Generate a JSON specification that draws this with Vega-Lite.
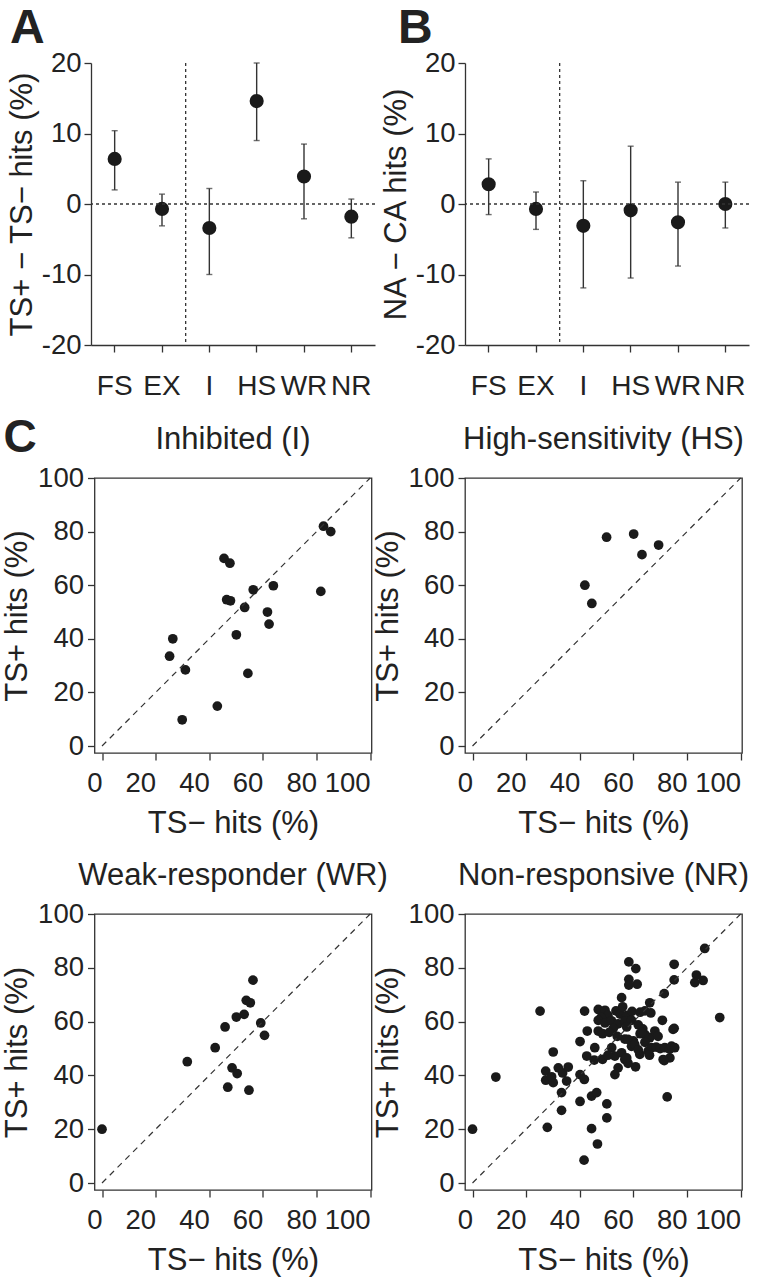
{
  "$schema": "https://vega.github.io/schema/vega-lite/v6.json",
  "padding": {"left": 0, "top": 5, "right": 0, "bottom": 0},
  "background": "white",
  "config": {
    "font": "Liberation Sans",
    "view": {"stroke": "#333", "strokeWidth": 1.3},
    "axis": {"grid": false, "labelFont": "Liberation Sans", "labelFontSize": 27.5, "labelColor": "#222", "titleFont": "Liberation Sans", "titleFontSize": 31, "titleFontWeight": "normal", "titleColor": "#222", "tickColor": "#333", "tickSize": 7, "tickWidth": 1.3, "domainColor": "#333", "domainWidth": 1.3},
    "title": {"font": "Liberation Sans", "fontSize": 31, "fontWeight": "normal", "color": "#222"}
  },
  "datasets": {
    "panelA": [
      {"group": "FS", "mean": 6.4, "lo": 2.0, "hi": 10.4},
      {"group": "EX", "mean": -0.7, "lo": -3.1, "hi": 1.4},
      {"group": "I", "mean": -3.4, "lo": -10.0, "hi": 2.2},
      {"group": "HS", "mean": 14.6, "lo": 9.0, "hi": 20.0},
      {"group": "WR", "mean": 3.9, "lo": -2.1, "hi": 8.5},
      {"group": "NR", "mean": -1.8, "lo": -4.8, "hi": 0.7}
    ],
    "panelB": [
      {"group": "FS", "mean": 2.8, "lo": -1.5, "hi": 6.4},
      {"group": "EX", "mean": -0.7, "lo": -3.6, "hi": 1.7},
      {"group": "I", "mean": -3.1, "lo": -11.9, "hi": 3.3},
      {"group": "HS", "mean": -0.9, "lo": -10.5, "hi": 8.2},
      {"group": "WR", "mean": -2.6, "lo": -8.8, "hi": 3.1},
      {"group": "NR", "mean": 0.0, "lo": -3.4, "hi": 3.1}
    ],
    "I": [
      {"minus": 82.6, "plus": 82.0}, {"minus": 85.3, "plus": 80.0}, {"minus": 45.5, "plus": 70.0}, {"minus": 47.7, "plus": 68.2},
      {"minus": 56.4, "plus": 58.3}, {"minus": 63.9, "plus": 59.8}, {"minus": 81.6, "plus": 57.7}, {"minus": 46.5, "plus": 54.6},
      {"minus": 47.9, "plus": 54.2}, {"minus": 53.2, "plus": 51.7}, {"minus": 61.7, "plus": 50.0}, {"minus": 62.3, "plus": 45.5},
      {"minus": 50.1, "plus": 41.5}, {"minus": 26.4, "plus": 40.0}, {"minus": 25.2, "plus": 33.5}, {"minus": 31.1, "plus": 28.4},
      {"minus": 54.4, "plus": 27.1}, {"minus": 43.0, "plus": 14.9}, {"minus": 29.9, "plus": 9.8}
    ],
    "HS": [
      {"minus": 50.0, "plus": 77.9}, {"minus": 60.1, "plus": 79.1}, {"minus": 63.2, "plus": 71.4},
      {"minus": 69.4, "plus": 75.0}, {"minus": 41.9, "plus": 60.0}, {"minus": 44.5, "plus": 53.2}
    ],
    "WR": [
      {"minus": 0.0, "plus": 20.0}, {"minus": 31.8, "plus": 45.1}, {"minus": 42.2, "plus": 50.3}, {"minus": 45.9, "plus": 58.0},
      {"minus": 50.1, "plus": 61.7}, {"minus": 53.0, "plus": 62.7}, {"minus": 53.8, "plus": 67.9}, {"minus": 55.3, "plus": 67.0},
      {"minus": 56.3, "plus": 75.4}, {"minus": 59.2, "plus": 59.5}, {"minus": 60.6, "plus": 54.9}, {"minus": 48.5, "plus": 42.8},
      {"minus": 50.4, "plus": 40.7}, {"minus": 46.9, "plus": 35.6}, {"minus": 54.8, "plus": 34.5}
    ],
    "NR": [
      {"minus": 0.0, "plus": 20.0}, {"minus": 8.7, "plus": 39.4}, {"minus": 25.2, "plus": 63.9}, {"minus": 27.9, "plus": 20.7},
      {"minus": 30.1, "plus": 48.7}, {"minus": 92.2, "plus": 61.5}, {"minus": 86.6, "plus": 87.2}, {"minus": 72.6, "plus": 32.0},
      {"minus": 41.6, "plus": 8.5}, {"minus": 46.6, "plus": 14.5}, {"minus": 44.4, "plus": 20.2}, {"minus": 50.1, "plus": 24.2},
      {"minus": 50.1, "plus": 29.4}, {"minus": 40.1, "plus": 30.3}, {"minus": 44.4, "plus": 32.3}, {"minus": 46.3, "plus": 33.6},
      {"minus": 33.2, "plus": 33.6}, {"minus": 33.2, "plus": 27.0},
      {"minus": 27.3, "plus": 41.6}, {"minus": 27.3, "plus": 38.2}, {"minus": 30.1, "plus": 37.3}, {"minus": 32.0, "plus": 42.8},
      {"minus": 33.6, "plus": 40.9}, {"minus": 35.7, "plus": 43.1}, {"minus": 35.1, "plus": 37.9}, {"minus": 40.1, "plus": 40.3},
      {"minus": 41.7, "plus": 38.5}, {"minus": 29.5, "plus": 39.5},
      {"minus": 40.1, "plus": 52.6}, {"minus": 42.8, "plus": 56.5}, {"minus": 41.8, "plus": 63.9}, {"minus": 42.6, "plus": 47.2},
      {"minus": 45.4, "plus": 45.7}, {"minus": 45.6, "plus": 50.3},
      {"minus": 58.3, "plus": 82.2}, {"minus": 60.9, "plus": 79.7}, {"minus": 75.2, "plus": 81.3}, {"minus": 75.2, "plus": 75.5},
      {"minus": 83.5, "plus": 77.3}, {"minus": 82.9, "plus": 74.5}, {"minus": 86.0, "plus": 75.3}, {"minus": 58.3, "plus": 75.7},
      {"minus": 61.4, "plus": 73.9}, {"minus": 58.3, "plus": 73.6}, {"minus": 71.5, "plus": 70.4}, {"minus": 55.6, "plus": 68.9},
      {"minus": 66.1, "plus": 67.0}, {"minus": 70.8, "plus": 60.5}, {"minus": 75.2, "plus": 57.5},
      {"minus": 46.9, "plus": 64.5}, {"minus": 49.4, "plus": 64.2}, {"minus": 50.5, "plus": 62.3}, {"minus": 53.5, "plus": 64.0},
      {"minus": 55.0, "plus": 62.8}, {"minus": 56.0, "plus": 65.5}, {"minus": 57.5, "plus": 62.3}, {"minus": 59.5, "plus": 63.8},
      {"minus": 62.5, "plus": 63.5}, {"minus": 64.3, "plus": 64.0}, {"minus": 66.5, "plus": 63.2}, {"minus": 48.0, "plus": 61.5},
      {"minus": 46.9, "plus": 60.5}, {"minus": 49.4, "plus": 59.5}, {"minus": 51.8, "plus": 60.3}, {"minus": 54.3, "plus": 59.2},
      {"minus": 56.8, "plus": 60.2}, {"minus": 59.3, "plus": 60.5}, {"minus": 61.8, "plus": 58.8}, {"minus": 63.5, "plus": 57.3},
      {"minus": 52.5, "plus": 57.5}, {"minus": 57.5, "plus": 58.0},
      {"minus": 46.9, "plus": 56.5}, {"minus": 48.5, "plus": 55.5}, {"minus": 51.0, "plus": 56.0}, {"minus": 56.8, "plus": 53.5},
      {"minus": 62.5, "plus": 55.5}, {"minus": 64.3, "plus": 55.2}, {"minus": 66.1, "plus": 54.0}, {"minus": 68.0, "plus": 56.5},
      {"minus": 69.2, "plus": 54.5}, {"minus": 60.0, "plus": 52.8}, {"minus": 54.0, "plus": 54.5}, {"minus": 58.0, "plus": 53.4},
      {"minus": 63.0, "plus": 55.9}, {"minus": 74.8, "plus": 57.1},
      {"minus": 51.9, "plus": 50.3}, {"minus": 53.1, "plus": 47.2}, {"minus": 55.6, "plus": 48.4}, {"minus": 56.8, "plus": 45.9},
      {"minus": 59.3, "plus": 50.8}, {"minus": 60.5, "plus": 51.5}, {"minus": 62.4, "plus": 47.8}, {"minus": 64.3, "plus": 52.3},
      {"minus": 65.5, "plus": 49.0}, {"minus": 66.7, "plus": 50.3}, {"minus": 68.5, "plus": 50.5}, {"minus": 70.0, "plus": 50.0},
      {"minus": 71.7, "plus": 50.3}, {"minus": 73.5, "plus": 49.8}, {"minus": 74.2, "plus": 50.9}, {"minus": 75.4, "plus": 50.3},
      {"minus": 73.6, "plus": 46.5}, {"minus": 71.1, "plus": 45.9}, {"minus": 66.0, "plus": 47.5},
      {"minus": 54.3, "plus": 42.8}, {"minus": 53.1, "plus": 40.3}, {"minus": 60.8, "plus": 43.2}, {"minus": 58.0, "plus": 44.5},
      {"minus": 57.5, "plus": 46.5}, {"minus": 71.5, "plus": 45.5}, {"minus": 48.5, "plus": 46.0}, {"minus": 50.5, "plus": 47.5},
      {"minus": 61.8, "plus": 49.5}
    ]
  },
  "columns": 2,
  "spacing": {"row": 161, "column": 90},
  "bounds": "flush",
  "center": {"column": true, "row": false},
  "concat": [
    {
      "width": 284, "height": 254,
      "view": {"stroke": null},
      "title": {"text": "A", "fontSize": 48, "fontWeight": "bold", "anchor": "start", "frame": "group", "dx": -81, "offset": -4},
      "data": {"name": "panelA"},
      "layer": [
        {"mark": {"type": "rule", "color": "#333", "strokeWidth": 1.4},
         "encoding": {
           "x": {"field": "group", "type": "nominal", "sort": ["FS", "EX", "I", "HS", "WR", "NR"], "scale": {"paddingInner": 0, "paddingOuter": 0},
                 "axis": {"title": "C", "titleFontSize": 46, "titleFontWeight": "bold", "titleAlign": "left", "titleAnchor": "start", "titleBaseline": "alphabetic", "titleX": -88, "titleY": 106, "labelAngle": 0, "labelPadding": 20, "labelFontSize": 28, "offset": 28}},
           "y": {"field": "lo", "type": "quantitative", "scale": {"domain": [-20, 20], "nice": false, "range": [282, 0]}, "axis": {"title": "TS+ − TS− hits (%)", "values": [-20, -10, 0, 10, 20], "labelPadding": 3, "titlePadding": 3, "labelExpr": "datum.value < 0 ? '-' + abs(datum.value) : '' + datum.value"}},
           "y2": {"field": "hi"}}},
        {"mark": {"type": "tick", "color": "#333", "thickness": 1.4, "size": 6, "orient": "horizontal"},
         "encoding": {"x": {"field": "group", "type": "nominal", "sort": ["FS", "EX", "I", "HS", "WR", "NR"]}, "y": {"field": "lo", "type": "quantitative"}}},
        {"mark": {"type": "tick", "color": "#333", "thickness": 1.4, "size": 6, "orient": "horizontal"},
         "encoding": {"x": {"field": "group", "type": "nominal", "sort": ["FS", "EX", "I", "HS", "WR", "NR"]}, "y": {"field": "hi", "type": "quantitative"}}},
        {"mark": {"type": "circle", "size": 200, "opacity": 1, "color": "#1a1a1a"},
         "encoding": {"x": {"field": "group", "type": "nominal", "sort": ["FS", "EX", "I", "HS", "WR", "NR"]}, "y": {"field": "mean", "type": "quantitative"}}},
        {"data": {"values": [{}]},
         "mark": {"type": "rule", "color": "#333", "strokeWidth": 1.3, "strokeDash": [3, 3]},
         "encoding": {"y": {"datum": 0, "type": "quantitative"}}},
        {"data": {"values": [{"group": "EX"}]},
         "mark": {"type": "rule", "color": "#333", "strokeWidth": 1.3, "strokeDash": [3, 3]},
         "encoding": {"x": {"field": "group", "type": "nominal", "sort": ["FS", "EX", "I", "HS", "WR", "NR"], "bandPosition": 1}, "y": {"datum": 20, "type": "quantitative"}, "y2": {"datum": -20}}}
      ]
    },
    {
      "width": 284, "height": 254,
      "view": {"stroke": null},
      "title": {"text": "B", "fontSize": 48, "fontWeight": "bold", "anchor": "start", "frame": "group", "dx": -67, "offset": -4},
      "data": {"name": "panelB"},
      "layer": [
        {"mark": {"type": "rule", "color": "#333", "strokeWidth": 1.4},
         "encoding": {
           "x": {"field": "group", "type": "nominal", "sort": ["FS", "EX", "I", "HS", "WR", "NR"], "scale": {"paddingInner": 0, "paddingOuter": 0},
                 "axis": {"title": null, "labelAngle": 0, "labelPadding": 20, "labelFontSize": 28, "offset": 28}},
           "y": {"field": "lo", "type": "quantitative", "scale": {"domain": [-20, 20], "nice": false, "range": [282, 0]}, "axis": {"title": "NA − CA hits (%)", "values": [-20, -10, 0, 10, 20], "labelPadding": 3, "titlePadding": 3, "labelExpr": "datum.value < 0 ? '-' + abs(datum.value) : '' + datum.value"}},
           "y2": {"field": "hi"}}},
        {"mark": {"type": "tick", "color": "#333", "thickness": 1.4, "size": 6, "orient": "horizontal"},
         "encoding": {"x": {"field": "group", "type": "nominal", "sort": ["FS", "EX", "I", "HS", "WR", "NR"]}, "y": {"field": "lo", "type": "quantitative"}}},
        {"mark": {"type": "tick", "color": "#333", "thickness": 1.4, "size": 6, "orient": "horizontal"},
         "encoding": {"x": {"field": "group", "type": "nominal", "sort": ["FS", "EX", "I", "HS", "WR", "NR"]}, "y": {"field": "hi", "type": "quantitative"}}},
        {"mark": {"type": "circle", "size": 200, "opacity": 1, "color": "#1a1a1a"},
         "encoding": {"x": {"field": "group", "type": "nominal", "sort": ["FS", "EX", "I", "HS", "WR", "NR"]}, "y": {"field": "mean", "type": "quantitative"}}},
        {"data": {"values": [{}]},
         "mark": {"type": "rule", "color": "#333", "strokeWidth": 1.3, "strokeDash": [3, 3]},
         "encoding": {"y": {"datum": 0, "type": "quantitative"}}},
        {"data": {"values": [{"group": "EX"}]},
         "mark": {"type": "rule", "color": "#333", "strokeWidth": 1.3, "strokeDash": [3, 3]},
         "encoding": {"x": {"field": "group", "type": "nominal", "sort": ["FS", "EX", "I", "HS", "WR", "NR"], "bandPosition": 1}, "y": {"datum": 20, "type": "quantitative"}, "y2": {"datum": -20}}}
      ]
    },
    {
      "width": 277, "height": 275,
      "title": {"text": "Inhibited (I)", "offset": 8},
      "data": {"name": "I"},
      "layer": [
        {"mark": {"type": "circle", "size": 95, "opacity": 1, "color": "#1a1a1a"},
         "encoding": {
           "x": {"field": "minus", "type": "quantitative", "scale": {"domain": [-2.8, 100.5], "nice": false, "zero": false}, "axis": {"title": "TS− hits (%)", "values": [0, 20, 40, 60, 80, 100], "domain": false, "labelFlush": false, "labelOverlap": false, "labelAlign": "right", "labelDx": 9, "labelPadding": 9, "titlePadding": 12}},
           "y": {"field": "plus", "type": "quantitative", "scale": {"domain": [-2.6, 100], "nice": false, "zero": false}, "axis": {"title": "TS+ hits (%)", "values": [0, 20, 40, 60, 80, 100], "domain": false, "labelOverlap": false, "labelPadding": 4, "titlePadding": 4}}}},
        {"data": {"values": [{}]},
         "mark": {"type": "rule", "color": "#333", "strokeWidth": 1.2, "strokeDash": [6, 5]},
         "encoding": {"x": {"datum": 0, "type": "quantitative"}, "y": {"datum": 0, "type": "quantitative"}, "x2": {"datum": 100}, "y2": {"datum": 100}}}
      ]
    },
    {
      "width": 277, "height": 275,
      "title": {"text": "High-sensitivity (HS)", "offset": 8},
      "data": {"name": "HS"},
      "layer": [
        {"mark": {"type": "circle", "size": 95, "opacity": 1, "color": "#1a1a1a"},
         "encoding": {
           "x": {"field": "minus", "type": "quantitative", "scale": {"domain": [-2.8, 100.5], "nice": false, "zero": false}, "axis": {"title": "TS− hits (%)", "values": [0, 20, 40, 60, 80, 100], "domain": false, "labelFlush": false, "labelOverlap": false, "labelAlign": "right", "labelDx": 9, "labelPadding": 9, "titlePadding": 12}},
           "y": {"field": "plus", "type": "quantitative", "scale": {"domain": [-2.6, 100], "nice": false, "zero": false}, "axis": {"title": "TS+ hits (%)", "values": [0, 20, 40, 60, 80, 100], "domain": false, "labelOverlap": false, "labelPadding": 4, "titlePadding": 4}}}},
        {"data": {"values": [{}]},
         "mark": {"type": "rule", "color": "#333", "strokeWidth": 1.2, "strokeDash": [6, 5]},
         "encoding": {"x": {"datum": 0, "type": "quantitative"}, "y": {"datum": 0, "type": "quantitative"}, "x2": {"datum": 100}, "y2": {"datum": 100}}}
      ]
    },
    {
      "width": 277, "height": 276,
      "title": {"text": "Weak-responder (WR)", "offset": 8},
      "data": {"name": "WR"},
      "layer": [
        {"mark": {"type": "circle", "size": 95, "opacity": 1, "color": "#1a1a1a"},
         "encoding": {
           "x": {"field": "minus", "type": "quantitative", "scale": {"domain": [-2.8, 100.5], "nice": false, "zero": false}, "axis": {"title": "TS− hits (%)", "values": [0, 20, 40, 60, 80, 100], "domain": false, "labelFlush": false, "labelOverlap": false, "labelAlign": "right", "labelDx": 9, "labelPadding": 9, "titlePadding": 12}},
           "y": {"field": "plus", "type": "quantitative", "scale": {"domain": [-2.6, 100], "nice": false, "zero": false}, "axis": {"title": "TS+ hits (%)", "values": [0, 20, 40, 60, 80, 100], "domain": false, "labelOverlap": false, "labelPadding": 4, "titlePadding": 4}}}},
        {"data": {"values": [{}]},
         "mark": {"type": "rule", "color": "#333", "strokeWidth": 1.2, "strokeDash": [6, 5]},
         "encoding": {"x": {"datum": 0, "type": "quantitative"}, "y": {"datum": 0, "type": "quantitative"}, "x2": {"datum": 100}, "y2": {"datum": 100}}}
      ]
    },
    {
      "width": 277, "height": 276,
      "title": {"text": "Non-responsive (NR)", "offset": 8},
      "data": {"name": "NR"},
      "layer": [
        {"mark": {"type": "circle", "size": 95, "opacity": 1, "color": "#1a1a1a"},
         "encoding": {
           "x": {"field": "minus", "type": "quantitative", "scale": {"domain": [-2.8, 100.5], "nice": false, "zero": false}, "axis": {"title": "TS− hits (%)", "values": [0, 20, 40, 60, 80, 100], "domain": false, "labelFlush": false, "labelOverlap": false, "labelAlign": "right", "labelDx": 9, "labelPadding": 9, "titlePadding": 12}},
           "y": {"field": "plus", "type": "quantitative", "scale": {"domain": [-2.6, 100], "nice": false, "zero": false}, "axis": {"title": "TS+ hits (%)", "values": [0, 20, 40, 60, 80, 100], "domain": false, "labelOverlap": false, "labelPadding": 4, "titlePadding": 4}}}},
        {"data": {"values": [{}]},
         "mark": {"type": "rule", "color": "#333", "strokeWidth": 1.2, "strokeDash": [6, 5]},
         "encoding": {"x": {"datum": 0, "type": "quantitative"}, "y": {"datum": 0, "type": "quantitative"}, "x2": {"datum": 100}, "y2": {"datum": 100}}}
      ]
    }
  ]
}
